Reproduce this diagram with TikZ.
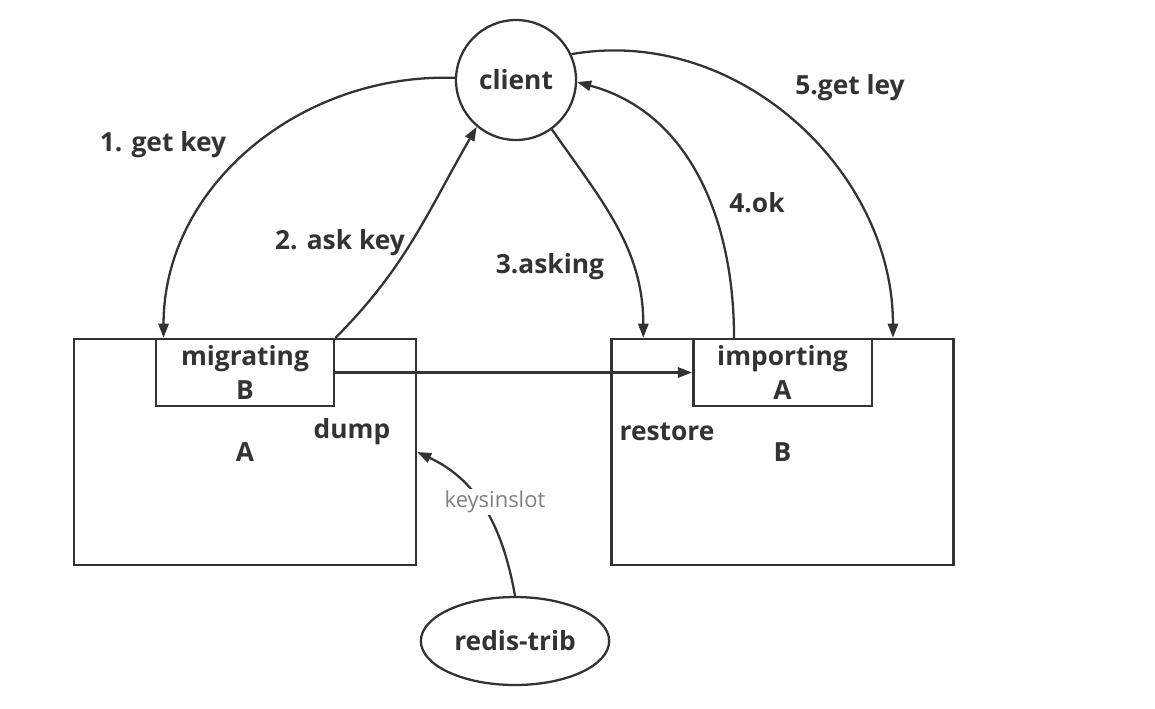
\documentclass[tikz,border=0pt]{standalone}
\usepackage{fontspec}
\setmainfont{Open Sans}
\usetikzlibrary{arrows.meta,shapes.geometric}
\definecolor{ink}{HTML}{333333}
\begin{document}
\begin{tikzpicture}[x=0.02cm, y=-0.02cm,
    every node/.style={text=ink, font=\bfseries\fontsize{15}{19}\selectfont},
    server/.style={rectangle, draw=ink, line width=1.4pt,
              minimum width=6.84cm, minimum height=4.52cm},
    slot/.style={rectangle, draw=ink, line width=1.4pt, fill=white,
              minimum width=3.57cm, minimum height=1.34cm,
              inner sep=0pt, align=center},
    actor/.style={circle, draw=ink, line width=1.3pt, minimum size=2.4cm},
    tool/.style={ellipse, draw=ink, line width=1.3pt,
              minimum width=3.56cm, minimum height=1.76cm},
    arrow/.style={-{Triangle[length=8pt, width=5.8pt]}, draw=ink, line width=1.3pt},
    note/.style={font=\fontsize{12.5}{14}\selectfont, text=gray, fill=white, inner sep=1pt}
]
    \useasboundingbox (0,0) rectangle (1155,708);

    \node[server] (A) at (245, 452) {A};
    \node[server] (B) at (782.5, 452) {B};
    \node[slot] (mig) at (245, 372.5) {migrating\\B};
    \node[slot] (imp) at (782.5, 372.5) {importing\\A};
    \node[actor] (client) at (516, 80) {client};
    \node[tool] (trib) at (515, 641) {redis-trib};

    \node at (352, 432) {dump};
    \node at (667, 432) {restore};

    \draw[arrow] (client.178) to[out=178, in=90]
        ([xshift=0.18cm]mig.north west);
    \draw[arrow] (mig.north east) to[out=45, in=240] (client.230);
    \draw[arrow] (client.306) to[out=-55, in=90]
        ([xshift=0.66cm]B.north west);
    \draw[arrow] ([xshift=0.84cm]imp.north west) to[out=90, in=-15]
        (client.-2);
    \draw[arrow] (client.25) to[out=10, in=90]
        ([xshift=0.4cm]imp.north east);
    \draw[arrow] (mig.east) -- (imp.west);
    \draw[arrow] (trib.north) to[out=100, in=-25] (A.east);

    \node at (163, 145) {1. get key};
    \node at (340, 243) {2. ask key};
    \node at (550, 267) {3.asking};
    \node at (757, 203) {4.ok};
    \node at (850, 88) {5.get ley};
    \node[note] at (495, 502) {keysinslot};
\end{tikzpicture}
\end{document}
